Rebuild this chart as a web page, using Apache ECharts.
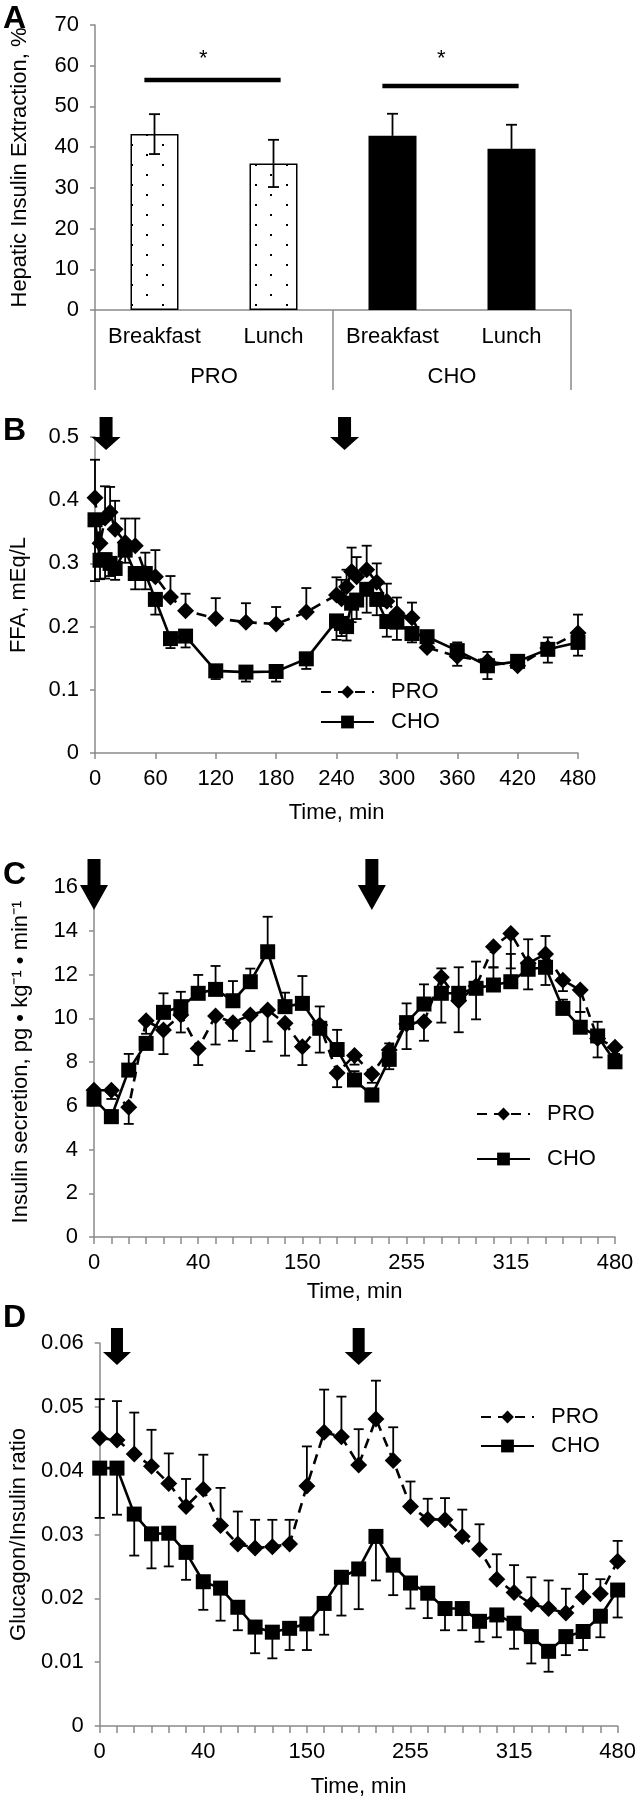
<!DOCTYPE html>
<html><head><meta charset="utf-8">
<script src="https://cdn.jsdelivr.net/npm/echarts@6/dist/echarts.min.js"></script>
<style>html,body{margin:0;padding:0;background:#fff}#chart{width:639px;height:1800px}</style>
</head><body><div id="chart"></div>
<script>
// ---------- Panel A ----------
const mealCats = ['Breakfast', 'Lunch', 'Breakfast', 'Lunch'];
const dietGroups = ['PRO', 'CHO'];
const barGroupIdx = [0, 0, 1, 1];
const hieValues = [43.2, 36.0, 42.8, 39.6];
const hieErrors = [4.9, 5.8, 5.4, 5.9];
const sigPairs = [[0, 1, 56.5, 63], [2, 3, 55.0, 63]];
const hieTicks = [0, 70, 10];

// ---------- Time points ----------
const timesMin = [0,5,10,15,20,30,40,50,60,75,90,120,150,180,210,240,245,250,255,260,270,280,290,300,315,330,360,390,420,450,480];

// ---------- Panel B (FFA) ----------
const ffaPRO = [0.404,0.332,0.372,0.381,0.354,0.333,0.328,0.285,0.279,0.247,0.225,0.213,0.207,0.204,0.223,0.250,0.244,0.263,0.287,0.279,0.290,0.270,0.240,0.221,0.214,0.167,0.153,0.145,0.138,0.166,0.190];
const ffaPROerr = [0.060,0.030,0.050,0.040,0.045,0.038,0.043,0.032,0.042,0.033,0.027,0.032,0.030,0.027,0.038,0.028,0.030,0.027,0.038,0.031,0.038,0.030,0.028,0.025,0.024,0.008,0.022,0.015,0.008,0.017,0.029];
const ffaCHO = [0.369,0.305,0.306,0.300,0.292,0.321,0.284,0.284,0.243,0.181,0.185,0.130,0.128,0.129,0.149,0.209,0.205,0.200,0.237,0.242,0.259,0.243,0.208,0.207,0.189,0.184,0.162,0.138,0.145,0.164,0.175];
const ffaCHOerr = [0.097,0.030,0.030,0.020,0.018,0.020,0.025,0.025,0.024,0.015,0.018,0.013,0.015,0.016,0.016,0.030,0.020,0.022,0.030,0.030,0.037,0.025,0.024,0.028,0.014,0.008,0.024,0.021,0.010,0.021,0.021];
const mealArrowsB = [11, 248];

// ---------- Panel C (insulin secretion) ----------
const isrPRO = [6.71,6.71,5.93,9.89,9.46,10.15,8.62,10.10,9.80,10.15,10.38,9.77,8.70,9.69,7.50,8.30,7.45,8.55,9.74,9.84,11.87,10.80,11.47,13.27,13.88,12.51,12.94,11.74,11.29,9.08,8.67];
const isrPROerr = [0.3,0.4,0.76,0.6,1.1,0.8,0.76,1.3,0.83,1.65,1.45,1.48,0.84,1.26,0.65,0.42,0.4,0.88,1.15,0.87,2.07,1.44,1.52,0.94,1.6,1.19,1.42,0.5,1.0,0.87,0.3];
const isrCHO = [6.30,5.50,7.63,8.85,10.27,10.53,11.14,11.32,10.80,11.67,13.04,10.53,10.68,9.54,8.57,7.18,6.49,8.12,9.80,10.65,11.14,11.14,11.37,11.52,11.67,12.24,12.33,10.45,9.59,9.19,8.01];
const isrCHOerr = [0.3,0.3,0.74,0.3,0.87,0.68,0.84,1.07,0.9,0.6,1.6,0.64,1.25,1.0,0.9,0.4,0.3,0.73,0.88,0.9,1.14,1.19,1.22,0.8,1.27,1.37,1.43,0.4,0.7,0.65,0.3];
const mealArrowsC = [0.45, 15.9];

// ---------- Panel D (glucagon/insulin) ----------
const giPRO = [0.0451,0.0448,0.0426,0.0407,0.0380,0.0344,0.0371,0.0314,0.0285,0.0279,0.0281,0.0285,0.0376,0.0460,0.0453,0.0409,0.0481,0.0416,0.0344,0.0324,0.0323,0.0297,0.0277,0.0230,0.0209,0.0191,0.0184,0.0177,0.0202,0.0207,0.0258];
const giPROerr = [0.0061,0.0061,0.0065,0.0057,0.0047,0.0043,0.0054,0.0059,0.0051,0.0044,0.0042,0.0038,0.0062,0.0067,0.0063,0.0056,0.0060,0.0052,0.0039,0.0032,0.0034,0.0042,0.0039,0.0039,0.0043,0.0042,0.0044,0.0038,0.0036,0.0023,0.0032];
const giCHO = [0.0404,0.0404,0.0332,0.0301,0.0302,0.0272,0.0226,0.0216,0.0186,0.0155,0.0147,0.0153,0.0160,0.0192,0.0233,0.0246,0.0297,0.0252,0.0224,0.0208,0.0184,0.0184,0.0164,0.0174,0.0161,0.0140,0.0117,0.0140,0.0148,0.0172,0.0213];
const giCHOerr = [0.0078,0.0073,0.0065,0.0054,0.0052,0.0043,0.0044,0.0051,0.0036,0.0041,0.0041,0.0034,0.0041,0.0049,0.0060,0.0063,0.0069,0.0047,0.0040,0.0039,0.0034,0.0034,0.0032,0.0035,0.0040,0.0042,0.0032,0.0029,0.0029,0.0033,0.0043];
const mealArrowsD = [0.6, 14.8];

// ---------- styling ----------
const FONT = '"Liberation Sans", Arial, sans-serif';
const AX = '#8a8a8a';
const chart = echarts.init(document.getElementById('chart'), null, {renderer: 'canvas'});

const pc = document.createElement('canvas');
pc.width = 31; pc.height = 20;
const g = pc.getContext('2d');
g.fillStyle = '#fff'; g.fillRect(0, 0, 31, 20);
g.fillStyle = '#000';
g.fillRect(7, 4, 2, 2); g.fillRect(22, 14, 2, 2);
const dotPattern = {image: pc, repeat: 'repeat'};

function errRender(dir, cap) {
  return function (params, api) {
    const x = api.value(0), v = api.value(1), e = api.value(2);
    const p0 = api.coord([x, v]);
    const ends = dir === 0 ? [api.coord([x, v + e]), api.coord([x, v - e])] : [api.coord([x, v + dir * e])];
    const ch = [];
    ends.forEach(p1 => {
      ch.push({type: 'line', shape: {x1: p0[0], y1: p0[1], x2: p1[0], y2: p1[1]}, style: {stroke: '#000', lineWidth: 1.8}});
      ch.push({type: 'line', shape: {x1: p1[0] - cap, y1: p1[1], x2: p1[0] + cap, y2: p1[1]}, style: {stroke: '#000', lineWidth: 1.8}});
    });
    return {type: 'group', children: ch};
  };
}
function arrowRender(topOff, headOff, tipOff, shaftW, headW) {
  return function (params, api) {
    const x = api.coord([api.value(0), 0])[0];
    const gt = params.coordSys.y;
    const top = gt + topOff, head = gt + headOff, tip = gt + tipOff;
    return {type: 'polygon', shape: {points: [[x - shaftW / 2, top], [x + shaftW / 2, top], [x + shaftW / 2, head], [x + headW / 2, head], [x, tip], [x - headW / 2, head], [x - shaftW / 2, head]]}, style: {fill: '#000'}};
  };
}

const axLine = {show: true, lineStyle: {color: AX, width: 1.5}};
const axLabel = {color: '#000', fontSize: 22, fontFamily: FONT};
function yAx(grid, min, max, interval, name, gap) {
  return {type: 'value', gridIndex: grid, min, max, interval,
    axisLine: axLine, axisTick: {show: true, length: 5, lineStyle: {color: AX, width: 1.5}},
    splitLine: {show: false}, axisLabel: Object.assign({margin: 16}, axLabel),
    name, nameLocation: 'middle', nameRotate: 90, nameGap: gap,
    nameTextStyle: {color: '#000', fontSize: 22, fontFamily: FONT}};
}
function timeCatAxis(grid, gap) {
  return {type: 'category', gridIndex: grid, data: timesMin.map(String), boundaryGap: false,
    axisLine: axLine, axisTick: {show: true, interval: 0, length: 7, lineStyle: {color: AX, width: 1.5}},
    axisLabel: Object.assign({interval: 5, margin: 15}, axLabel),
    name: 'Time, min', nameLocation: 'middle', nameGap: gap,
    nameTextStyle: {color: '#000', fontSize: 22, fontFamily: FONT}};
}
function lineSeries(name, xi, yi, data, dashed) {
  return {type: 'line', name, xAxisIndex: xi, yAxisIndex: yi, data, clip: false,
    showSymbol: true, showAllSymbol: true,
    symbol: dashed ? 'diamond' : 'rect', symbolSize: dashed ? 17 : 15,
    itemStyle: {color: '#000'}, lineStyle: {color: '#000', width: 2.6, type: dashed ? [10, 7] : 'solid'},
    z: dashed ? 3 : 4};
}
function errSeries(xi, yi, data, dir) {
  return {type: 'custom', xAxisIndex: xi, yAxisIndex: yi, data, renderItem: errRender(dir, 5), clip: false, z: 2, silent: true};
}
function arrowSeries(xi, yi, data, a) {
  return {type: 'custom', xAxisIndex: xi, yAxisIndex: yi, data: data.map(v => [v, 0]), renderItem: arrowRender(a[0], a[1], a[2], a[3], a[4]), clip: false, z: 5, silent: true};
}
function legendAt(left, top, gap) {
  return {left, top, orient: 'vertical', itemWidth: 53, itemHeight: 16, itemGap: gap, padding: 0,
    data: ['PRO', 'CHO'], selectedMode: false,
    textStyle: {color: '#000', fontSize: 22, fontFamily: FONT, padding: [0, 0, 0, 12]}};
}

const catIdx = timesMin.map((t, i) => i);
const option = {
  animation: false,
  backgroundColor: '#fff',
  textStyle: {fontFamily: FONT},
  grid: [
    {left: 95, top: 25, width: 476, height: 285},
    {left: 94, top: 437, width: 484, height: 316},
    {left: 94, top: 887, width: 521, height: 350},
    {left: 94, top: 1343, width: 525, height: 383}
  ],
  xAxis: [
    {type: 'category', gridIndex: 0, data: mealCats, axisLine: axLine, axisTick: {show: false},
      axisLabel: Object.assign({margin: 16, interval: 0}, axLabel)},
    {type: 'category', gridIndex: 0, data: dietGroups, position: 'bottom', axisLine: {show: false},
      axisTick: {show: true, length: 80, lineStyle: {color: AX, width: 1.5}},
      axisLabel: Object.assign({margin: 56, interval: 0}, axLabel)},
    {type: 'value', gridIndex: 1, min: 0, max: 480, interval: 60, axisLine: axLine,
      axisTick: {show: true, length: 6, lineStyle: {color: AX, width: 1.5}}, splitLine: {show: false},
      axisLabel: Object.assign({margin: 15}, axLabel),
      name: 'Time, min', nameLocation: 'middle', nameGap: 49,
      nameTextStyle: {color: '#000', fontSize: 22, fontFamily: FONT}},
    timeCatAxis(2, 44),
    timeCatAxis(3, 50)
  ],
  yAxis: [
    yAx(0, hieTicks[0], hieTicks[1], hieTicks[2], 'Hepatic Insulin Extraction, %', 64),
    yAx(1, 0, 0.5, 0.1, 'FFA, mEq/L', 65),
    yAx(2, 0, 16, 2, 'Insulin secretion, pg \u2022 kg\u207B\u00B9 \u2022 min\u207B\u00B9', 62),
    yAx(3, 0, 0.06, 0.01, 'Glucagon/Insulin ratio', 68)
  ],
  legend: [legendAt(320, 681, 8), legendAt(476, 1103, 23), legendAt(480, 1406, 7)],
  graphic: [
    {type: 'text', x: 3, y: 19, style: {text: 'A', font: 'bold 32px ' + FONT, fill: '#000', verticalAlign: 'middle'}},
    {type: 'text', x: 3, y: 431, style: {text: 'B', font: 'bold 32px ' + FONT, fill: '#000', verticalAlign: 'middle'}},
    {type: 'text', x: 3, y: 875, style: {text: 'C', font: 'bold 32px ' + FONT, fill: '#000', verticalAlign: 'middle'}},
    {type: 'text', x: 3, y: 1318, style: {text: 'D', font: 'bold 32px ' + FONT, fill: '#000', verticalAlign: 'middle'}}
  ],
  series: [
    {type: 'bar', xAxisIndex: 0, yAxisIndex: 0, barWidth: 48, z: 2,
      data: hieValues.map((v, i) => ({value: v, itemStyle: barGroupIdx[i] === 0
        ? {color: dotPattern, borderColor: '#000', borderWidth: 1.5}
        : {color: '#000', borderColor: '#000', borderWidth: 1.5}}))},
    {type: 'custom', xAxisIndex: 0, yAxisIndex: 0, z: 3, silent: true, clip: false,
      data: hieValues.map((v, i) => [i, v, hieErrors[i]]), renderItem: errRender(0, 5.5)},
    {type: 'custom', xAxisIndex: 0, yAxisIndex: 0, z: 3, silent: true, clip: false,
      data: sigPairs,
      renderItem: function (params, api) {
        const c0 = api.value(0), c1 = api.value(1), y = api.value(2), sy = api.value(3);
        const p0 = api.coord([c0, y]), p1 = api.coord([c1, y]);
        const bw = api.coord([1, y])[0] - api.coord([0, y])[0];
        const s = api.coord([c0, sy]);
        return {type: 'group', children: [
          {type: 'rect', shape: {x: p0[0] - 0.085 * bw, y: p0[1] - 2.3, width: (p1[0] - p0[0]) + 0.145 * bw, height: 4.6}, style: {fill: '#000'}},
          {type: 'text', style: {text: '*', x: s[0] + 0.41 * bw, y: s[1] + 5, align: 'center', verticalAlign: 'middle', font: '22px ' + FONT, fill: '#000'}}
        ]};
      }},
    // B
    errSeries(2, 1, timesMin.map((t, i) => [t, ffaPRO[i], ffaPROerr[i]]), 1),
    errSeries(2, 1, timesMin.map((t, i) => [t, ffaCHO[i], ffaCHOerr[i]]), -1),
    lineSeries('PRO', 2, 1, timesMin.map((t, i) => [t, ffaPRO[i]]), true),
    lineSeries('CHO', 2, 1, timesMin.map((t, i) => [t, ffaCHO[i]]), false),
    arrowSeries(2, 1, mealArrowsB, [-20, 0, 13, 13, 29]),
    // C
    errSeries(3, 2, catIdx.map(i => [i, isrPRO[i], isrPROerr[i]]), -1),
    errSeries(3, 2, catIdx.map(i => [i, isrCHO[i], isrCHOerr[i]]), 1),
    lineSeries('PRO', 3, 2, isrPRO, true),
    lineSeries('CHO', 3, 2, isrCHO, false),
    arrowSeries(3, 2, mealArrowsC, [-28, -2, 23, 13, 28]),
    // D
    errSeries(4, 3, catIdx.map(i => [i, giPRO[i], giPROerr[i]]), 1),
    errSeries(4, 3, catIdx.map(i => [i, giCHO[i], giCHOerr[i]]), -1),
    lineSeries('PRO', 4, 3, giPRO, true),
    lineSeries('CHO', 4, 3, giCHO, false),
    arrowSeries(4, 3, mealArrowsD, [-15, 9, 22, 12, 28])
  ]
};
chart.setOption(option);
</script></body></html>
